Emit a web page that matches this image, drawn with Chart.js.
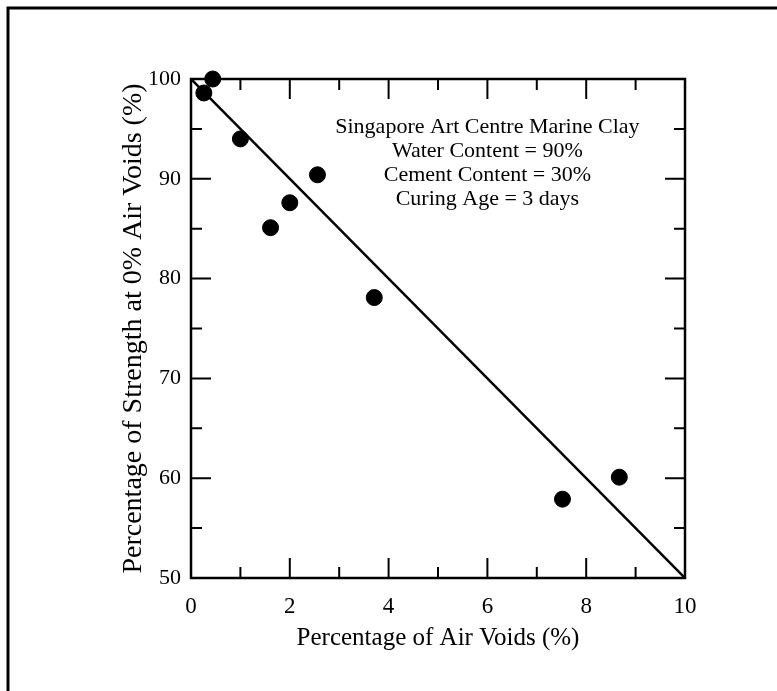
<!doctype html>
<html>
<head>
    <title>Strength vs Air Voids</title>
    <meta charset="utf-8">
    <style>
        html, body {
            background: #fff;
            margin: 0;
            padding: 0;
        }

        .chart {
            height: 691px;
            position: relative;
            width: 777px;
        }
    </style>
    <script src="https://cdn.jsdelivr.net/npm/chart.js@4/dist/chart.umd.min.js"></script>
</head>
<body>
<div class="chart"><canvas id="chart"></canvas></div>
<script>
    "use strict";

    // measured points: air voids (%) and strength relative to 0% air voids (%)
    const airVoids = [0.26, 0.44, 1.0, 1.61, 2.0, 2.56, 3.71, 7.52, 8.67];
    const strength = [98.6, 100.0, 94.0, 85.1, 87.6, 90.4, 78.1, 57.9, 60.1];

    // straight trend line
    const fitX = [0, 10];
    const fitY = [100, 50];

    // tick positions
    const xMajor = [0, 2, 4, 6, 8, 10];
    const xMinor = [1, 3, 5, 7, 9];
    const yMajor = [50, 60, 70, 80, 90, 100];
    const yMinor = [55, 65, 75, 85, 95];

    const noteLines = [
        "Singapore Art Centre Marine Clay",
        "Water Content = 90%",
        "Cement Content = 30%",
        "Curing Age = 3 days",
    ];
    const noteAt = {x: 6, y: 95.2};

    const serif = "'Liberation Serif', 'Times New Roman', serif";

    // box, inward ticks, note text and the outer frame
    const decorations = {
        id: "decorations",
        afterDraw(chart) {
            const {ctx, chartArea: area, scales: {x, y}} = chart;
            ctx.save();
            ctx.strokeStyle = "#000";
            ctx.lineCap = "square";

            // outer frame (top and left edges)
            ctx.lineWidth = 3;
            ctx.beginPath();
            ctx.moveTo(8, 700);
            ctx.lineTo(8, 8);
            ctx.lineTo(800, 8);
            ctx.stroke();

            ctx.lineWidth = 2.5;
            ctx.strokeRect(area.left, area.top, area.right - area.left, area.bottom - area.top);

            function xTicks(values, len) {
                for (const v of values) {
                    const px = x.getPixelForValue(v);
                    ctx.moveTo(px, area.bottom);
                    ctx.lineTo(px, area.bottom - len);
                    ctx.moveTo(px, area.top);
                    ctx.lineTo(px, area.top + len);
                }
            }

            function yTicks(values, len) {
                for (const v of values) {
                    const py = y.getPixelForValue(v);
                    ctx.moveTo(area.left, py);
                    ctx.lineTo(area.left + len, py);
                    ctx.moveTo(area.right, py);
                    ctx.lineTo(area.right - len, py);
                }
            }

            ctx.lineWidth = 2;
            ctx.beginPath();
            xTicks(xMajor, 19);
            xTicks(xMinor, 10);
            yTicks(yMajor, 19);
            yTicks(yMinor, 10);
            ctx.stroke();

            ctx.fillStyle = "#000";
            ctx.font = "22px " + serif;
            ctx.textAlign = "center";
            ctx.textBaseline = "middle";
            const nx = x.getPixelForValue(noteAt.x);
            const ny = y.getPixelForValue(noteAt.y);
            noteLines.forEach(function (line, i) {
                ctx.fillText(line, nx, ny + i * 24);
            });
            ctx.restore();
        },
    };

    new Chart(document.getElementById("chart"), {
        type: "scatter",
        data: {
            datasets: [
                {
                    data: airVoids.map((v, i) => ({x: v, y: strength[i]})),
                    backgroundColor: "#000",
                    borderColor: "#000",
                    pointRadius: 8,
                    pointHoverRadius: 8,
                    clip: false,
                },
                {
                    data: fitX.map((v, i) => ({x: v, y: fitY[i]})),
                    borderColor: "#000",
                    borderWidth: 2.5,
                    pointRadius: 0,
                    showLine: true,
                },
            ],
        },
        options: {
            animation: false,
            responsive: true,
            maintainAspectRatio: false,
            layout: {
                padding: {left: 117, top: 79, right: 92, bottom: 33},
            },
            plugins: {
                legend: {display: false},
                tooltip: {enabled: false},
            },
            scales: {
                x: {
                    type: "linear",
                    min: 0,
                    max: 10,
                    afterFit(scale) {
                        scale.height = 80;
                    },
                    border: {display: false},
                    grid: {display: false, drawTicks: false},
                    ticks: {
                        stepSize: 2,
                        padding: 15,
                        color: "#000",
                        font: {family: serif, size: 23},
                    },
                    title: {
                        display: true,
                        text: "Percentage of Air Voids (%)",
                        color: "#000",
                        font: {family: serif, size: 25},
                        padding: {top: 0, bottom: 5},
                    },
                },
                y: {
                    type: "linear",
                    min: 50,
                    max: 100,
                    afterFit(scale) {
                        scale.width = 74;
                    },
                    border: {display: false},
                    grid: {display: false, drawTicks: false},
                    ticks: {
                        stepSize: 10,
                        padding: 10,
                        color: "#000",
                        font: {family: serif, size: 22},
                    },
                    title: {
                        display: true,
                        text: "Percentage of Strength at 0% Air Voids (%)",
                        color: "#000",
                        font: {family: serif, size: 28},
                        padding: {top: 0, bottom: 0},
                    },
                },
            },
        },
        plugins: [decorations],
    });
</script>
</body>
</html>
